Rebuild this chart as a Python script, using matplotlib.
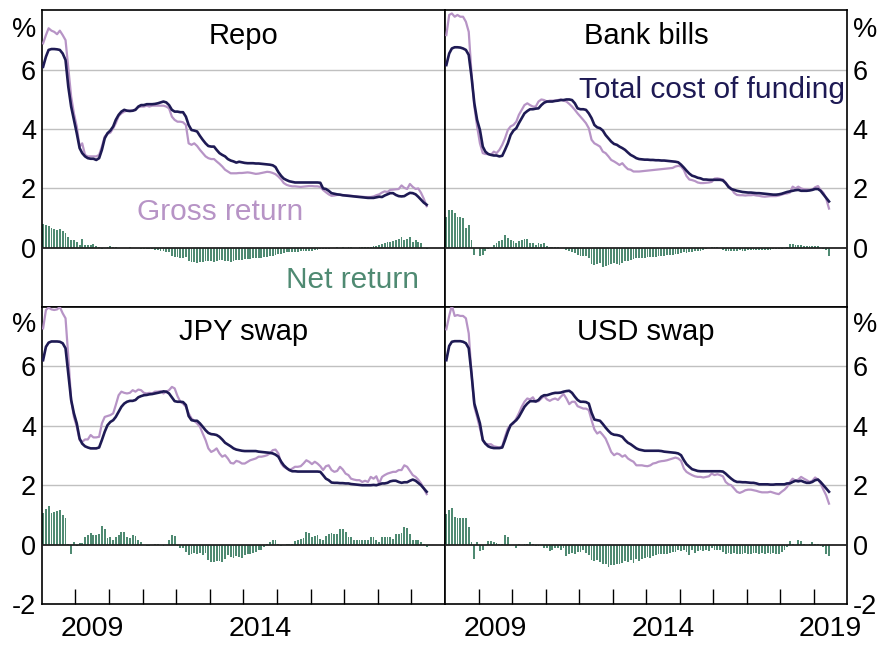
import matplotlib
matplotlib.use('Agg')
import matplotlib.pyplot as plt
import pandas as pd

plt.rcParams['font.family'] = ['Liberation Sans', 'DejaVu Sans']
plt.rcParams['axes.unicode_minus'] = False

# monthly, Jan 2008 - Jun 2019
months = pd.date_range('2008-01-01', periods=138, freq='MS') + pd.Timedelta(days=15)

repo_cost = [6.1, 6.44, 6.67, 6.7, 6.7, 6.69, 6.67, 6.55, 6.33, 5.43,
             4.76, 4.31, 3.86, 3.36, 3.19, 3.08, 3.02, 3.0, 3.0, 2.96,
             3.02, 3.3, 3.69, 3.86, 3.95, 4.09, 4.31, 4.48, 4.59, 4.65,
             4.62, 4.61, 4.62, 4.65, 4.76, 4.81, 4.81, 4.84, 4.84, 4.84,
             4.85, 4.87, 4.9, 4.93, 4.9, 4.81, 4.65, 4.59, 4.59, 4.57,
             4.57, 4.42, 4.14, 3.97, 3.95, 3.92, 3.77, 3.64, 3.52, 3.43,
             3.41, 3.41, 3.3, 3.19, 3.13, 3.08, 2.99, 2.94, 2.91, 2.87,
             2.9, 2.88, 2.86, 2.85, 2.85, 2.85, 2.84, 2.84, 2.83, 2.82,
             2.81, 2.8, 2.78, 2.72, 2.55, 2.42, 2.33, 2.28, 2.24, 2.22,
             2.2, 2.2, 2.2, 2.2, 2.2, 2.2, 2.2, 2.2, 2.2, 2.19,
             2.0, 1.98, 1.92, 1.84, 1.82, 1.8, 1.79, 1.77, 1.76, 1.75,
             1.74, 1.73, 1.72, 1.71, 1.7, 1.69, 1.68, 1.68, 1.68, 1.7,
             1.72, 1.71, 1.76, 1.8, 1.84, 1.84, 1.78, 1.74, 1.73, 1.74,
             1.8, 1.85, 1.84, 1.8, 1.72, 1.62, 1.52, 1.45]
repo_gross = [6.89, 7.17, 7.4, 7.32, 7.28, 7.2, 7.32, 7.17, 7.0, 6.05,
              5.1, 4.53, 4.09, 3.41, 3.52, 3.13, 3.08, 3.08, 3.08, 3.08,
              3.13, 3.41, 3.75, 3.84, 3.88, 4.03, 4.2, 4.44, 4.53, 4.59,
              4.62, 4.62, 4.62, 4.67, 4.74, 4.76, 4.76, 4.79, 4.76, 4.79,
              4.79, 4.79, 4.79, 4.79, 4.76, 4.7, 4.42, 4.31, 4.25, 4.25,
              4.23, 4.14, 3.52, 3.47, 3.52, 3.43, 3.3, 3.19, 3.08, 3.02,
              2.99, 2.99, 2.91, 2.83, 2.74, 2.63, 2.57, 2.51, 2.51, 2.51,
              2.52, 2.52, 2.53, 2.54, 2.53, 2.51, 2.49, 2.5, 2.52, 2.54,
              2.56, 2.55, 2.52, 2.48, 2.4, 2.3, 2.18, 2.12, 2.09, 2.07,
              2.07, 2.06, 2.05, 2.06, 2.07, 2.08, 2.08, 2.07, 2.07, 2.05,
              1.95, 1.87, 1.8, 1.75, 1.76, 1.78, 1.78, 1.77, 1.77, 1.76,
              1.75, 1.74, 1.73, 1.72, 1.72, 1.71, 1.71, 1.71, 1.73, 1.77,
              1.8, 1.86, 1.9, 1.88, 1.95, 1.96, 1.97, 1.98, 2.1, 2.02,
              1.98, 2.15, 2.05, 1.98, 2.0, 1.85, 1.65, 1.4]
repo_net = [0.8, 0.78, 0.74, 0.68, 0.64, 0.6, 0.62, 0.56, 0.5, 0.36,
            0.27, 0.26, 0.18, 0.1, 0.3, 0.08, 0.08, 0.09, 0.12, 0.07,
            0.03, -0.03, 0.0, 0.03, 0.06, 0.04, 0.02, 0.0, 0.0, -0.01,
            0.0, 0.01, 0.0, 0.0, -0.02, -0.03, -0.04, -0.04, -0.06, -0.05,
            -0.07, -0.08, -0.1, -0.12, -0.13, -0.16, -0.28, -0.3, -0.32, -0.33,
            -0.33, -0.32, -0.45, -0.48, -0.47, -0.5, -0.48, -0.47, -0.46, -0.44,
            -0.45, -0.48, -0.44, -0.4, -0.42, -0.45, -0.46, -0.47, -0.44, -0.41,
            -0.4, -0.4, -0.39, -0.38, -0.37, -0.36, -0.35, -0.34, -0.33, -0.32,
            -0.3, -0.28, -0.27, -0.25, -0.22, -0.2, -0.17, -0.16, -0.15, -0.14,
            -0.14, -0.13, -0.12, -0.12, -0.11, -0.11, -0.1, -0.09, -0.08, -0.06,
            -0.06, -0.04, -0.03, -0.01, 0.0, 0.01, 0.0, 0.01, 0.0, 0.01,
            0.01, -0.01, 0.0, 0.01, 0.02, 0.02, 0.03, 0.03, 0.05, 0.07,
            0.1, 0.13, 0.15, 0.18, 0.2, 0.22, 0.26, 0.3, 0.36, 0.26,
            0.3, 0.36, 0.2, 0.26, 0.18, 0.15, -0.02, -0.06]

bills_cost = [6.16, 6.55, 6.72, 6.76, 6.76, 6.75, 6.72, 6.67, 6.5, 5.77,
              4.87, 4.31, 3.97, 3.41, 3.24, 3.16, 3.13, 3.11, 3.11, 3.08,
              3.1, 3.3, 3.52, 3.8, 3.95, 4.03, 4.2, 4.37, 4.53, 4.61,
              4.67, 4.67, 4.69, 4.7, 4.81, 4.89, 4.93, 4.93, 4.93, 4.95,
              4.96, 4.98, 4.98, 5.0, 5.0, 4.98, 4.87, 4.7, 4.67, 4.67,
              4.65, 4.53, 4.37, 4.14, 4.06, 4.03, 3.95, 3.8, 3.69, 3.58,
              3.5, 3.47, 3.41, 3.36, 3.3, 3.21, 3.13, 3.08, 3.02, 2.99,
              2.98, 2.97, 2.97, 2.96, 2.96, 2.95, 2.95, 2.94, 2.94, 2.93,
              2.92, 2.91, 2.9, 2.88, 2.8, 2.7, 2.6, 2.5, 2.43, 2.4,
              2.36, 2.34, 2.3, 2.3, 2.29, 2.29, 2.29, 2.29, 2.29, 2.27,
              2.18, 2.05, 1.98, 1.95, 1.92, 1.9, 1.88, 1.87, 1.86, 1.86,
              1.85, 1.84, 1.84, 1.83, 1.82, 1.81, 1.8, 1.79, 1.79, 1.8,
              1.82, 1.85, 1.88, 1.9, 1.92, 1.94, 1.95, 1.92, 1.92, 1.92,
              1.93, 1.95, 1.98, 1.98, 1.92, 1.8, 1.68, 1.56]
bills_gross = [7.17, 7.85, 7.9, 7.79, 7.85, 7.79, 7.79, 7.62, 7.28, 5.88,
               4.76, 4.09, 3.52, 3.19, 3.16, 3.16, 3.13, 3.24, 3.19, 3.3,
               3.47, 3.69, 3.97, 4.09, 4.14, 4.25, 4.48, 4.65, 4.81, 4.87,
               4.81, 4.76, 4.76, 4.93, 5.0, 4.98, 4.93, 4.96, 4.96, 4.96,
               4.98, 5.0, 4.96, 4.93, 4.85, 4.76, 4.65, 4.53, 4.42, 4.31,
               4.2, 4.03, 3.64, 3.52, 3.47, 3.41, 3.24, 3.19, 3.08, 2.96,
               2.91, 2.85, 2.79, 2.85, 2.74, 2.65, 2.63, 2.57, 2.57, 2.57,
               2.58, 2.59, 2.6, 2.61, 2.62, 2.63, 2.64, 2.65, 2.66, 2.67,
               2.68, 2.69, 2.74, 2.76, 2.74, 2.62, 2.42, 2.3, 2.28, 2.25,
               2.2, 2.18, 2.18, 2.19, 2.2, 2.22, 2.33, 2.34, 2.32, 2.3,
               2.2, 2.08, 2.0, 1.85, 1.78, 1.77, 1.77, 1.76, 1.77, 1.77,
               1.78, 1.76, 1.75, 1.73, 1.72, 1.73, 1.74, 1.74, 1.74, 1.76,
               1.79, 1.82, 1.83, 1.86, 2.06, 2.0, 2.06, 2.0, 1.97, 1.96,
               1.95, 1.96, 2.04, 2.08, 1.95, 1.85, 1.66, 1.32]
bills_net = [1.05, 1.28, 1.28, 1.17, 1.05, 1.05, 1.0, 0.66, 0.77, 0.27,
             -0.24, 0.0, -0.29, -0.24, -0.12, -0.04, 0.0, 0.1, 0.16, 0.21,
             0.27, 0.44, 0.33, 0.27, 0.21, 0.16, 0.21, 0.25, 0.29, 0.29,
             0.16, 0.16, 0.1, 0.16, 0.12, 0.16, 0.07, 0.04, 0.02, 0.01,
             0.04, 0.0, -0.02, -0.09, -0.12, -0.16, -0.18, -0.24, -0.29, -0.27,
             -0.29, -0.35, -0.54, -0.57, -0.54, -0.52, -0.65, -0.6, -0.57, -0.54,
             -0.52, -0.54, -0.57, -0.52, -0.46, -0.46, -0.4, -0.38, -0.35, -0.35,
             -0.33, -0.33, -0.32, -0.31, -0.3, -0.3, -0.29, -0.28, -0.27, -0.26,
             -0.25, -0.24, -0.22, -0.2, -0.18, -0.16, -0.17, -0.15, -0.14, -0.12,
             -0.12, -0.1, -0.08, -0.06, -0.02, 0.02, 0.03, 0.02, 0.0, -0.08,
             -0.1, -0.12, -0.12, -0.1, -0.1, -0.09, -0.1, -0.1, -0.09, -0.08,
             -0.09, -0.08, -0.08, -0.09, -0.08, -0.08, -0.07, -0.06, -0.06, -0.05,
             -0.03, -0.01, 0.04, 0.12, 0.14, 0.1, 0.1, 0.08, 0.07, 0.07,
             0.06, 0.06, 0.07, 0.06, -0.02, -0.05, -0.08, -0.28]

jpy_cost = [6.21, 6.66, 6.8, 6.84, 6.84, 6.84, 6.83, 6.78, 6.61, 5.76,
            4.87, 4.42, 4.08, 3.57, 3.4, 3.31, 3.27, 3.24, 3.24, 3.24,
            3.27, 3.52, 3.8, 4.02, 4.13, 4.19, 4.3, 4.47, 4.64, 4.75,
            4.81, 4.84, 4.84, 4.87, 4.96, 5.0, 5.03, 5.04, 5.06, 5.07,
            5.09, 5.11, 5.13, 5.16, 5.15, 5.09, 4.96, 4.83, 4.81, 4.81,
            4.8, 4.7, 4.33, 4.19, 4.17, 4.17, 4.08, 3.97, 3.85, 3.76,
            3.72, 3.71, 3.69, 3.63, 3.54, 3.43, 3.37, 3.31, 3.24, 3.2,
            3.18, 3.16, 3.15, 3.15, 3.15, 3.15, 3.15, 3.13, 3.12, 3.11,
            3.1, 3.09, 3.07, 3.03, 2.96, 2.79, 2.67, 2.58, 2.51, 2.47,
            2.47, 2.46, 2.46, 2.46, 2.46, 2.46, 2.46, 2.46, 2.46, 2.45,
            2.34, 2.22, 2.17, 2.09, 2.08, 2.08, 2.07, 2.07, 2.06, 2.06,
            2.04, 2.03, 2.02, 2.01, 2.0, 2.0, 2.0, 2.0, 2.01, 2.0,
            2.03, 2.06, 2.06, 2.08, 2.13, 2.15, 2.15, 2.11, 2.08, 2.1,
            2.1, 2.15, 2.19, 2.15, 2.08, 2.0, 1.89, 1.78]
jpy_gross = [7.28, 7.9, 7.98, 7.92, 7.9, 7.92, 8.0, 7.79, 7.62, 6.33,
             4.87, 4.3, 3.97, 3.52, 3.46, 3.54, 3.54, 3.69, 3.61, 3.61,
             3.63, 4.08, 4.3, 4.33, 4.36, 4.42, 4.7, 5.03, 5.15, 5.11,
             5.09, 5.11, 5.2, 5.15, 5.22, 5.2, 5.11, 5.09, 5.11, 5.09,
             5.15, 5.15, 5.17, 5.09, 5.15, 5.2, 5.31, 5.26, 5.0, 4.81,
             4.75, 4.64, 4.42, 4.25, 4.17, 4.08, 3.97, 3.74, 3.52, 3.24,
             3.12, 3.17, 3.24, 3.07, 2.96, 3.01, 2.9, 2.75, 2.73, 2.82,
             2.79, 2.73, 2.73, 2.79, 2.84, 2.87, 2.9, 2.96, 2.96, 2.98,
             3.01, 3.07, 3.18, 3.2, 3.07, 2.73, 2.62, 2.56, 2.51, 2.56,
             2.62, 2.62, 2.64, 2.73, 2.84, 2.79, 2.71, 2.79, 2.73, 2.64,
             2.51, 2.64, 2.67, 2.51, 2.45, 2.48, 2.62, 2.53, 2.39, 2.34,
             2.22, 2.19, 2.17, 2.17, 2.11, 2.15, 2.11, 2.28, 2.22, 2.3,
             2.06, 2.28, 2.34, 2.39, 2.42, 2.45, 2.45, 2.51, 2.51, 2.67,
             2.62, 2.48, 2.34, 2.28, 2.19, 2.06, 1.89, 1.7]
jpy_net = [1.07, 1.21, 1.29, 1.07, 1.1, 1.13, 1.18, 0.99, 0.91, 0.01,
           -0.3, 0.09, -0.06, 0.06, 0.04, 0.26, 0.31, 0.39, 0.34, 0.31,
           0.37, 0.63, 0.54, 0.22, 0.26, 0.15, 0.26, 0.31, 0.42, 0.42,
           0.26, 0.22, 0.33, 0.28, 0.15, 0.08, 0.0, -0.05, -0.05, -0.03,
           0.03, 0.01, -0.01, -0.05, -0.02, 0.15, 0.33, 0.3, -0.06, -0.1,
           -0.13, -0.25, -0.36, -0.3, -0.28, -0.3, -0.28, -0.36, -0.28, -0.53,
           -0.58, -0.58, -0.55, -0.55, -0.58, -0.47, -0.36, -0.42, -0.44, -0.37,
           -0.42, -0.44, -0.36, -0.33, -0.33, -0.28, -0.25, -0.19, -0.17, -0.08,
           0.01, 0.09, 0.17, 0.15, 0.01, -0.06, -0.03, 0.01, 0.03, 0.01,
           0.12, 0.15, 0.2, 0.22, 0.42, 0.4, 0.26, 0.28, 0.31, 0.2,
           0.17, 0.28, 0.37, 0.39, 0.37, 0.37, 0.51, 0.54, 0.43, 0.26,
           0.24, 0.15, 0.15, 0.17, 0.17, 0.17, 0.15, 0.26, 0.24, 0.15,
           0.09, 0.26, 0.26, 0.26, 0.24, 0.2, 0.35, 0.37, 0.39, 0.6,
           0.57, 0.37, 0.15, 0.17, 0.15, 0.09, 0.01, -0.08]

usd_cost = [6.21, 6.69, 6.83, 6.85, 6.85, 6.85, 6.83, 6.78, 6.61, 5.76,
            4.75, 4.42, 4.08, 3.52, 3.4, 3.31, 3.27, 3.25, 3.25, 3.25,
            3.27, 3.52, 3.8, 4.02, 4.11, 4.19, 4.3, 4.47, 4.64, 4.75,
            4.83, 4.83, 4.82, 4.87, 4.98, 5.03, 5.03, 5.06, 5.09, 5.11,
            5.11, 5.12, 5.15, 5.17, 5.18, 5.11, 4.98, 4.87, 4.81, 4.81,
            4.8, 4.75, 4.44, 4.21, 4.19, 4.17, 4.06, 3.94, 3.83, 3.74,
            3.7, 3.69, 3.67, 3.63, 3.52, 3.43, 3.38, 3.31, 3.24, 3.2,
            3.18, 3.16, 3.16, 3.16, 3.16, 3.16, 3.16, 3.15, 3.13, 3.12,
            3.11, 3.1, 3.09, 3.07, 3.01, 2.84, 2.71, 2.62, 2.54, 2.51,
            2.48, 2.47, 2.47, 2.47, 2.47, 2.47, 2.47, 2.47, 2.47, 2.46,
            2.39, 2.3, 2.22, 2.15, 2.11, 2.11, 2.1, 2.1, 2.09, 2.08,
            2.08, 2.06, 2.03, 2.03, 2.03, 2.03, 2.02, 2.02, 2.03, 2.03,
            2.03, 2.03, 2.06, 2.06, 2.11, 2.15, 2.13, 2.15, 2.11, 2.08,
            2.08, 2.11, 2.17, 2.19, 2.11, 2.0, 1.89, 1.78]
usd_gross = [7.25, 7.7, 8.05, 7.7, 7.73, 7.7, 7.7, 7.62, 7.11, 5.76,
             4.64, 4.3, 3.91, 3.54, 3.4, 3.38, 3.38, 3.31, 3.29, 3.27,
             3.31, 3.63, 3.91, 4.02, 4.08, 4.25, 4.42, 4.64, 4.81, 4.92,
             4.89, 4.96, 4.81, 4.83, 4.92, 5.0, 4.89, 4.84, 4.89, 4.92,
             4.87, 4.98, 5.07, 4.92, 4.73, 4.81, 4.81, 4.66, 4.62, 4.58,
             4.58, 4.53, 4.19, 3.88, 3.74, 3.8, 3.69, 3.57, 3.35, 3.12,
             3.01, 3.07, 3.04, 2.96, 3.01, 2.9, 2.84, 2.79, 2.67, 2.67,
             2.67, 2.65, 2.64, 2.67, 2.73, 2.75, 2.79, 2.81, 2.82, 2.84,
             2.87, 2.9, 2.93, 2.9, 2.82, 2.56, 2.45, 2.39, 2.34, 2.3,
             2.28, 2.28, 2.26, 2.28, 2.3, 2.39, 2.34, 2.37, 2.34, 2.3,
             2.11, 2.03, 2.0, 1.89, 1.78, 1.74, 1.78, 1.83, 1.85, 1.85,
             1.83, 1.81, 1.78, 1.76, 1.76, 1.76, 1.78, 1.75, 1.72, 1.7,
             1.78, 1.85, 1.94, 2.11, 2.22, 2.15, 2.19, 2.28, 2.22, 2.17,
             2.11, 2.15, 2.26, 2.19, 2.06, 1.85, 1.66, 1.38]
usd_net = [1.04, 1.18, 1.24, 0.93, 0.91, 0.91, 0.91, 0.91, 0.6, 0.09,
           -0.47, 0.09, -0.21, -0.17, -0.02, 0.11, 0.12, 0.09, 0.06, 0.01,
           0.03, 0.31, 0.26, 0.0, -0.01, -0.1, 0.01, -0.03, 0.01, 0.03,
           0.08, 0.03, -0.06, -0.06, -0.02, -0.1, -0.1, -0.21, -0.19, -0.13,
           -0.13, -0.19, -0.13, -0.39, -0.3, -0.28, -0.3, -0.25, -0.25, -0.17,
           -0.28, -0.36, -0.51, -0.55, -0.53, -0.58, -0.64, -0.66, -0.75, -0.7,
           -0.7, -0.66, -0.64, -0.62, -0.55, -0.58, -0.53, -0.62, -0.47, -0.55,
           -0.47, -0.44, -0.42, -0.44, -0.39, -0.36, -0.33, -0.33, -0.3, -0.33,
           -0.28, -0.25, -0.25, -0.19, -0.21, -0.19, -0.25, -0.36, -0.19, -0.28,
           -0.21, -0.19, -0.21, -0.17, -0.21, -0.13, -0.17, -0.19, -0.19, -0.25,
           -0.3, -0.28, -0.3, -0.28, -0.3, -0.3, -0.33, -0.28, -0.3, -0.33,
           -0.28, -0.28, -0.3, -0.28, -0.3, -0.28, -0.3, -0.28, -0.33, -0.3,
           -0.25, -0.19, -0.08, 0.11, 0.03, -0.01, 0.15, 0.12, 0.01, -0.03,
           0.01, 0.09, 0.03, 0.01, -0.06, -0.08, -0.3, -0.39]

titles = ['Repo', 'Bank bills', 'JPY swap', 'USD swap']
gross_all = [repo_gross, bills_gross, jpy_gross, usd_gross]
cost_all = [repo_cost, bills_cost, jpy_cost, usd_cost]
net_all = [repo_net, bills_net, jpy_net, usd_net]

NAVY = '#1e1a54'
LAV = '#b794c6'
GREEN = '#4f8a72'
GRID = '#c0c0c0'

fig = plt.figure(figsize=(8.78, 6.48), dpi=100)
boxes = [(0.0475, 0.5262, 0.4593, 0.4576), (0.5068, 0.5262, 0.4582, 0.4576),
         (0.0475, 0.0679, 0.4593, 0.4583), (0.5068, 0.0679, 0.4582, 0.4583)]
axes = []

for i in range(4):
    ax = fig.add_axes(boxes[i])
    axes.append(ax)
    ax.set_xlim(pd.Timestamp('2008-01-01'), pd.Timestamp('2020-01-01'))
    ax.set_ylim(-2, 8)
    for g in [2, 4, 6]:
        ax.axhline(g, color=GRID, lw=1, zorder=1)
    ax.bar(months, net_all[i], width=20, color=GREEN, zorder=2)
    ax.axhline(0, color='#222222', lw=1.3, zorder=3)
    ax.plot(months, gross_all[i], color=LAV, lw=1.6, zorder=4)
    ax.plot(months, cost_all[i], color=NAVY, lw=1.9, zorder=5)
    ax.text(0.5, 0.915, titles[i], transform=ax.transAxes, ha='center',
            va='center', fontsize=21)
    for s in ax.spines.values():
        s.set_linewidth(1.2)

    bottom = i >= 2
    if bottom:
        yt = [-2, 0, 2, 4, 6]
        ax.set_yticks(yt + [7.5])
    else:
        yt = [0, 2, 4, 6]
        ax.set_yticks(yt + [7.45])
    ax.set_yticklabels([str(t) for t in yt] + ['%'])
    if i % 2 == 1:
        ax.yaxis.tick_right()
    ax.tick_params(axis='y', length=0, pad=4, labelsize=19.5)

    if bottom:
        ax.set_xticks([pd.Timestamp(f'{y}-01-01') for y in range(2009, 2020)])
        ax.set_xticklabels([])
        years = [2009, 2014, 2019] if i == 3 else [2009, 2014]
        ax.set_xticks([pd.Timestamp(f'{y}-07-01') for y in years], minor=True)
        ax.set_xticklabels([str(y) for y in years], minor=True)
        ax.tick_params(axis='x', which='major', direction='in', length=11,
                       width=1, color='black')
        ax.tick_params(axis='x', which='minor', length=0, pad=8.5, labelsize=20.5)
    else:
        ax.set_xticks([])

axes[0].text(pd.Timestamp('2013-04-20'), 1.21, 'Gross return', color=LAV,
             fontsize=21.5, ha='center', va='center')
axes[0].text(pd.Timestamp('2017-03-28'), -1.08, 'Net return', color=GREEN,
             fontsize=21.5, ha='center', va='center')
axes[1].text(pd.Timestamp('2015-12-15'), 5.32, 'Total cost of funding',
             color=NAVY, fontsize=21.5, ha='center', va='center')

fig.savefig('out.png', dpi=100)
